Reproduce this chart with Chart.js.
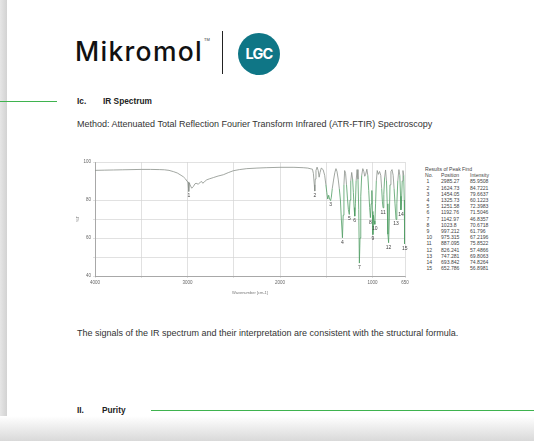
<!DOCTYPE html>
<html>
<head>
<meta charset="utf-8">
<script src="https://cdn.jsdelivr.net/npm/chart.js@4.4.1/dist/chart.umd.min.js"></script>
<style>
  html, body { margin: 0; padding: 0; background: #fff; }
  body { width: 534px; height: 441px; position: relative; overflow: hidden; font-family: "Liberation Sans", Arial, sans-serif; color: #222; }
  .abs { position: absolute; white-space: nowrap; }
  #leftEdge { left: 0; top: 0; width: 7px; height: 441px; background: linear-gradient(to right, #e6e6e6, #d2d2d2); }
  #bottomShade { left: 0; top: 416px; width: 534px; height: 25px; background: linear-gradient(to bottom, #ffffff, #d9d9d9); }
  #logo { left: 75px; top: 35px; font-family: "Inter", "Lato", sans-serif; font-weight: 500; font-size: 26.5px; letter-spacing: 1.3px; color: #111; }
  #tm { left: 204px; top: 37px; font-size: 4px; color: #333; }
  #divider { left: 222px; top: 31px; width: 1px; height: 43px; background: #222; }
  #lgc { left: 238px; top: 33px; width: 42px; height: 42px; border-radius: 50%; background: #0f7686; color: #fff; font-family: "Inter", sans-serif; font-weight: 700; font-size: 14.5px; letter-spacing: -0.8px; text-align: center; line-height: 42px; }
  .green { background: #3fb34f; height: 1px; }
  .h { font-weight: bold; font-size: 8.3px; }
  .p { font-size: 9px; color: #333; }
  #chartBox { left: 75px; top: 155px; width: 345px; height: 140px; }
  .col { position: absolute; top: 0; font-size: 5.1px; color: #444; line-height: 6.2px; }
</style>
</head>
<body>
<div class="abs" id="leftEdge"></div>
<div class="abs" id="bottomShade"></div>

<div class="abs" id="logo">Mikromol</div>
<div class="abs" id="tm">TM</div>
<div class="abs" id="divider"></div>
<div class="abs" id="lgc">LGC</div>

<div class="abs green" style="left:0;top:101px;width:57px;"></div>
<div class="abs h" style="left:77px;top:96px;">Ic.</div>
<div class="abs h" style="left:103px;top:96px;">IR Spectrum</div>
<div class="abs p" style="left:77px;top:119px;">Method: Attenuated Total Reflection Fourier Transform Infrared (ATR-FTIR) Spectroscopy</div>

<div class="abs" id="chartBox"><canvas id="irChart"></canvas></div>

<div class="abs" id="peakTable" style="left:425px;top:166px;width:95px;height:110px;"></div>

<div class="abs p" style="left:77px;top:328px;">The signals of the IR spectrum and their interpretation are consistent with the structural formula.</div>

<div class="abs h" style="left:77px;top:405px;">II.</div>
<div class="abs h" style="left:102px;top:405px;">Purity</div>
<div class="abs green" style="left:151px;top:410px;width:383px;"></div>

<script>
// IR spectrum
const wavenumbers = [4000, 3900, 3800, 3700, 3600, 3500, 3400, 3300, 3250, 3200, 3150, 3110, 3070, 3045, 3020, 3005, 2995, 2989, 2985, 2980, 2973, 2955, 2937, 2920, 2908, 2883, 2860, 2847, 2835, 2820, 2793, 2760, 2721, 2670, 2613, 2560, 2505, 2440, 2360, 2250, 2150, 2000, 1850, 1750, 1700, 1676, 1650, 1640, 1630, 1625, 1620, 1612, 1600, 1588, 1578, 1568, 1555, 1535, 1518, 1505, 1495, 1485, 1475, 1465, 1454, 1446, 1436, 1422, 1408, 1396, 1385, 1372, 1360, 1348, 1338, 1326, 1318, 1310, 1302, 1292, 1282, 1272, 1262, 1252, 1244, 1236, 1226, 1216, 1208, 1200, 1193, 1186, 1178, 1168, 1158, 1150, 1143, 1136, 1128, 1118, 1106, 1095, 1085, 1075, 1062, 1052, 1042, 1032, 1024, 1016, 1008, 1003, 997, 991, 985, 976, 968, 960, 950, 938, 925, 912, 902, 894, 887, 879, 870, 860, 850, 842, 835, 827, 820, 812, 802, 790, 778, 768, 758, 747, 738, 728, 716, 706, 698, 694, 688, 680, 672, 664, 658, 653, 650];
const transmittance = [95.6, 95.7, 95.8, 95.9, 96.0, 96.1, 96.1, 96.0, 95.9, 95.6, 94.9, 94.2, 93.0, 92.2, 91.0, 89.8, 89.5, 87.0, 84.5, 89.0, 88.0, 86.2, 87.1, 88.5, 88.8, 88.3, 89.5, 89.7, 88.8, 89.5, 90.6, 91.2, 91.8, 92.6, 93.3, 94.4, 95.4, 96.0, 96.5, 96.8, 97.0, 97.2, 97.2, 97.0, 96.8, 96.5, 96.2, 94.0, 88.0, 84.7, 91.0, 95.5, 97.3, 95.5, 92.0, 94.5, 96.8, 96.0, 93.0, 88.0, 84.0, 80.5, 82.5, 80.5, 79.7, 81.5, 86.0, 90.5, 94.5, 96.5, 95.0, 91.0, 86.0, 80.0, 70.0, 60.1, 72.0, 88.0, 95.5, 94.0, 88.0, 81.0, 75.0, 72.4, 80.0, 90.0, 94.5, 91.0, 84.0, 76.0, 71.5, 78.0, 90.0, 96.0, 91.0, 75.0, 46.8, 60.0, 82.0, 93.0, 96.5, 95.0, 92.5, 93.5, 96.2, 93.0, 85.0, 76.0, 70.7, 78.0, 85.0, 74.0, 61.8, 72.0, 69.0, 67.2, 78.0, 90.0, 95.5, 93.5, 95.0, 93.0, 86.0, 79.0, 75.9, 83.0, 92.0, 95.8, 90.0, 78.0, 62.0, 57.5, 70.0, 88.0, 95.0, 96.0, 93.0, 86.0, 78.0, 69.8, 78.0, 90.0, 96.0, 93.0, 82.0, 74.8, 79.0, 90.0, 95.5, 93.0, 80.0, 56.9, 62.0];

// Results of Peak Find
const peakNo = [1, 2, 3, 4, 5, 6, 7, 8, 9, 10, 11, 12, 13, 14, 15];
const peakPositionText = ['2985.27', '1624.73', '1454.05', '1325.73', '1251.58', '1192.76', '1142.97', '1023.8', '997.212', '975.315', '887.095', '826.241', '747.281', '693.842', '652.786'];
const peakIntensityText = ['85.9508', '84.7221', '79.6637', '60.1223', '72.3983', '71.5046', '46.8357', '70.6718', '61.796', '67.2196', '75.8522', '57.4866', '69.8063', '74.8264', '56.8981'];
const peakMarkX = [2985, 1625, 1454, 1326, 1252, 1193, 1143, 1024, 997, 976, 887, 827, 747, 694, 653];
const peakMarkY = [84.5, 84.7, 79.7, 60.1, 72.4, 71.5, 46.8, 70.7, 61.8, 67.2, 75.9, 57.5, 69.8, 74.8, 56.9];

// axis ticks
const xTickValues = [4000, 3500, 3000, 2500, 2000, 1500, 1000, 650];
const xTickLabels = [4000, 3000, 2000, 1000, 650];
const yTickValues = [40, 50, 60, 70, 80, 90, 100];
const yTickLabels = [40, 60, 80, 100];

// peak table, three columns
const tbl = document.getElementById('peakTable');
tbl.innerHTML =
    '<div class="col" style="left:0">Results of Peak Find<br>No.<br>' + peakNo.map(n => '&nbsp;' + n).join('<br>') + '</div>' +
    '<div class="col" style="left:16px"><br>Position<br>' + peakPositionText.join('<br>') + '</div>' +
    '<div class="col" style="left:45px"><br>Intensity<br>' + peakIntensityText.join('<br>') + '</div>';

const points = wavenumbers.map((w, i) => ({ x: w, y: transmittance[i] }));

const peakLabels = {
    id: 'peakLabels',
    afterDatasetsDraw(chart) {
        const ctx = chart.ctx;
        const xs = chart.scales.x, ys = chart.scales.y;
        ctx.save();
        ctx.font = '5px "Liberation Sans", Arial, sans-serif';
        ctx.fillStyle = '#444';
        ctx.textAlign = 'center';
        ctx.textBaseline = 'top';
        peakNo.forEach((n, i) => {
            const px = xs.getPixelForValue(peakMarkX[i]);
            const py = ys.getPixelForValue(peakMarkY[i]);
            ctx.fillText(String(n), px, py + 2);
        });
        ctx.restore();
    }
};

const tickFont = { family: '"Liberation Sans", Arial, sans-serif', size: 4.5 };

new Chart(document.getElementById('irChart'), {
    type: 'line',
    data: {
        datasets: [{
            data: points,
            borderColor: '#8a918a',
            borderWidth: 0.8,
            pointRadius: 0,
            tension: 0,
            segment: {
                borderColor: c => (c.p0.parsed.x < 1520 && (c.p0.parsed.y < 86 || c.p1.parsed.y < 86)) ? '#4f9d63' : undefined
            }
        }]
    },
    options: {
        responsive: true,
        maintainAspectRatio: false,
        animation: false,
        layout: { padding: { top: 7, right: 15, left: 0, bottom: 0 } },
        plugins: { legend: { display: false }, tooltip: { enabled: false } },
        scales: {
            x: {
                type: 'linear',
                reverse: true,
                min: 650,
                max: 4000,
                afterBuildTicks: s => { s.ticks = xTickValues.map(v => ({ value: v })); },
                afterFit: s => { s.height = 19; },
                ticks: {
                    autoSkip: false, maxRotation: 0, padding: 2, color: '#666', font: tickFont,
                    callback: v => xTickLabels.includes(v) ? String(v) : ''
                },
                grid: { color: '#d4d4d4', lineWidth: 0.7, drawTicks: true, tickLength: 2 },
                border: { color: '#999', width: 0.8 },
                title: { display: true, text: 'Wavenumber [cm-1]', color: '#777', font: { family: tickFont.family, size: 4 }, padding: 0 }
            },
            y: {
                min: 40,
                max: 100,
                afterBuildTicks: s => { s.ticks = yTickValues.map(v => ({ value: v })); },
                afterFit: s => { s.width = 20; },
                ticks: {
                    autoSkip: false, padding: 2, color: '#666', font: tickFont,
                    callback: v => yTickLabels.includes(v) ? String(v) : ''
                },
                grid: {
                    color: c => c.tick && c.tick.value === 90 ? 'rgba(0,0,0,0)' : '#d4d4d4',
                    lineWidth: 0.7, tickLength: 2
                },
                border: { color: '#999', width: 0.8 },
                title: { display: true, text: '%T', color: '#777', font: { family: tickFont.family, size: 4 }, padding: 0 }
            }
        }
    },
    plugins: [peakLabels]
});
</script>
</body>
</html>
